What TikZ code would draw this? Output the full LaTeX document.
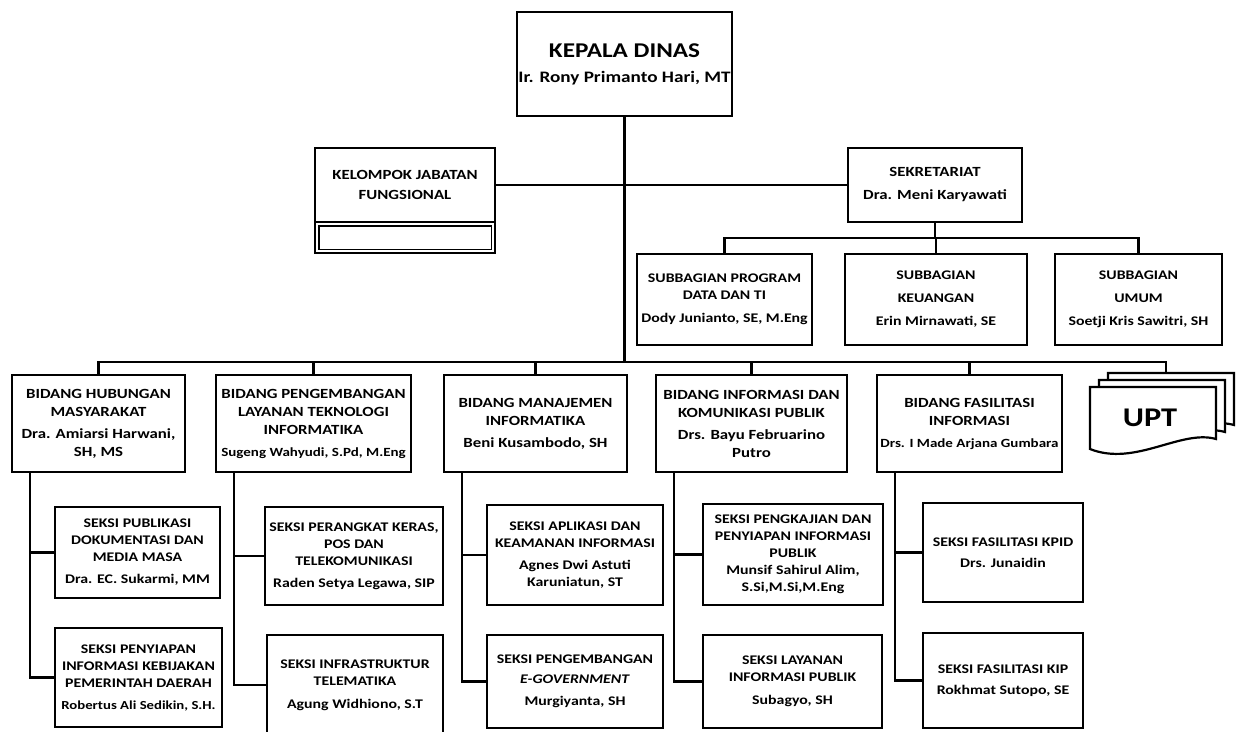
\documentclass[tikz,border=0pt]{standalone}
\usepackage{fontspec}
\setmainfont{Carlito}[FakeStretch=1.2]
\usetikzlibrary{positioning, calc}

\tikzset{
  box/.style={draw, line width=2.6pt, fill=white, align=center, inner sep=1pt},
  kabox/.style={box, font=\bfseries\fontsize{16}{20}\selectfont},
  bidbox/.style={box, font=\bfseries\fontsize{14}{18}\selectfont},
  seksibox/.style={box, font=\bfseries\fontsize{13.2}{17}\selectfont},
  conn/.style={line width=2.3pt},
  sheet/.style={line width=2.2pt, fill=white},
}
% one sheet of the UPT stack, top left corner at (#1,#2)
\newcommand{\uptsheet}[2]{%
  \draw[sheet] (#1,#2) -- ++(126,0) -- ++(0,52)
    .. controls +(-35,-10) and +(45,18) .. ($(#1,#2)+(0,62)$) -- cycle;}

\begin{document}
\begin{tikzpicture}[x=1pt, y=-1pt]
\path[use as bounding box] (0,0) rectangle (1241,731);
\clip (0,0) rectangle (1241,731);

% Top
\node[kabox, minimum width=215pt, minimum height=104pt] (kd) at (624.5,64)
  {{\fontsize{21}{21}\selectfont KEPALA DINAS}\\[5pt]Ir. Rony Primanto Hari, MT};

\node[seksibox, font=\bfseries\fontsize{14}{20}\selectfont, minimum width=180pt, minimum height=74pt] (kjf) at (405,185)
  {KELOMPOK JABATAN\\FUNGSIONAL};
\node[box, minimum width=180pt, minimum height=31pt] (kjfb) at (405,237.5) {};
\draw[line width=1.6pt] ([shift={(5,5)}]kjfb.north west) rectangle ([shift={(-5,-5)}]kjfb.south east);

\node[seksibox, font=\bfseries\fontsize{14}{18}\selectfont, minimum width=174pt, minimum height=74pt] (sek) at (935,185)
  {SEKRETARIAT\\[5pt]Dra. Meni Karyawati};

% Subbagian
\node[seksibox, minimum width=175pt, minimum height=91pt] (sub1) at (724.5,299.5)
  {SUBBAGIAN PROGRAM\\DATA DAN TI\\[6pt]Dody Junianto, SE, M.Eng};
\node[seksibox, minimum width=182pt, minimum height=91pt] (sub2) at (936,299.5)
  {SUBBAGIAN\\[6pt]KEUANGAN\\[6pt]Erin Mirnawati, SE};
\node[seksibox, minimum width=167pt, minimum height=91pt] (sub3) at (1138.5,299.5)
  {SUBBAGIAN\\[6pt]UMUM\\[6pt]Soetji Kris Sawitri, SH};

% Bidang
\node[bidbox, minimum width=173pt, minimum height=97pt] (b1) at (98.5,423.5)
  {BIDANG HUBUNGAN\\MASYARAKAT\\[4pt]Dra. Amiarsi Harwani,\\SH, MS};
\node[bidbox, minimum width=195pt, minimum height=97pt] (b2) at (313.5,423.5)
  {BIDANG PENGEMBANGAN\\LAYANAN TEKNOLOGI\\INFORMATIKA\\[4pt]{\fontsize{12.5}{16}\selectfont Sugeng Wahyudi, S.Pd, M.Eng}};
\node[bidbox, minimum width=183pt, minimum height=97pt] (b3) at (535.5,423.5)
  {BIDANG MANAJEMEN\\INFORMATIKA\\[4pt]Beni Kusambodo, SH};
\node[bidbox, minimum width=191pt, minimum height=97pt] (b4) at (751.5,423.5)
  {BIDANG INFORMASI DAN\\KOMUNIKASI PUBLIK\\[4pt]Drs. Bayu Februarino\\Putro};
\node[bidbox, minimum width=185pt, minimum height=97pt] (b5) at (969.5,423.5)
  {BIDANG FASILITASI\\INFORMASI\\[4pt]{\fontsize{12.5}{16}\selectfont Drs. I Made Arjana Gumbara}};

% UPT
\uptsheet{1108}{373}
\uptsheet{1099}{380}
\uptsheet{1090}{387}
\node[font=\bfseries\fontsize{27}{27}\selectfont] (upt) at (1150,418) {UPT};
\coordinate (uptTop) at (1166,373);

% Seksi
\node[seksibox, minimum width=165pt, minimum height=91pt] (s1a) at (137.5,552.5)
  {SEKSI PUBLIKASI\\DOKUMENTASI DAN\\MEDIA MASA\\[5pt]Dra. EC. Sukarmi, MM};
\node[seksibox, minimum width=167pt, minimum height=99pt] (s1b) at (138.5,677.5)
  {SEKSI PENYIAPAN\\INFORMASI KEBIJAKAN\\PEMERINTAH DAERAH\\[5pt]{\fontsize{12.3}{16}\selectfont Robertus Ali Sedikin, S.H.}};
\node[seksibox, minimum width=178pt, minimum height=98pt] (s2a) at (354,556)
  {SEKSI PERANGKAT KERAS,\\POS DAN\\TELEKOMUNIKASI\\[5pt]Raden Setya Legawa, SIP};
\node[seksibox, minimum width=176pt, minimum height=100pt] (s2b) at (355,685)
  {SEKSI INFRASTRUKTUR\\TELEMATIKA\\[6pt]Agung Widhiono, S.T};
\node[seksibox, minimum width=176pt, minimum height=100pt] (s3a) at (575,555)
  {SEKSI APLIKASI DAN\\KEAMANAN INFORMASI\\[5pt]Agnes Dwi Astuti\\Karuniatun, ST};
\node[seksibox, minimum width=176pt, minimum height=93pt] (s3b) at (575,681.5)
  {SEKSI PENGEMBANGAN\\[3pt]\textit{E-GOVERNMENT}\\[5pt]Murgiyanta, SH};
\node[seksibox, minimum width=180pt, minimum height=101pt] (s4a) at (793,554.5)
  {SEKSI PENGKAJIAN DAN\\PENYIAPAN INFORMASI\\PUBLIK\\Munsif Sahirul Alim,\\S.Si,M.Si,M.Eng};
\node[seksibox, minimum width=179pt, minimum height=93pt] (s4b) at (792.5,681.5)
  {SEKSI LAYANAN\\INFORMASI PUBLIK\\[6pt]Subagyo, SH};
\node[seksibox, minimum width=160pt, minimum height=99pt] (s5a) at (1003,552.5)
  {SEKSI FASILITASI KPID\\[4pt]Drs. Junaidin};
\node[seksibox, minimum width=160pt, minimum height=95pt] (s5b) at (1003,680.5)
  {SEKSI FASILITASI KIP\\[4pt]Rokhmat Sutopo, SE};

% Lines
\coordinate (busB) at (624.5,362);
\draw[conn] (kd.south) -- (busB);
\draw[conn] (b1.north) |- (busB) -| (uptTop);
\foreach \b in {b2,b3,b4,b5} {
    \draw[conn] (\b.north) -- (\b.north |- busB);
}
\draw[conn] (kjf.east) -- (sek.west);

\coordinate (busS) at (935,238);
\draw[conn] (sek.south) -- (busS);
\draw[conn] (sub1.north) |- (busS) -| (sub3.north);
\draw[conn] (sub2.north) -- (sub2.north |- busS);

\foreach \b/\u/\l in {b1/s1a/s1b, b2/s2a/s2b, b3/s3a/s3b, b4/s4a/s4b, b5/s5a/s5b} {
    \coordinate (c) at ([xshift=19pt]\b.south west);
    \draw[conn] (c) |- (\l.west);
    \draw[conn] (\u.west) -- (\u.west -| c);
}

\end{tikzpicture}
\end{document}
